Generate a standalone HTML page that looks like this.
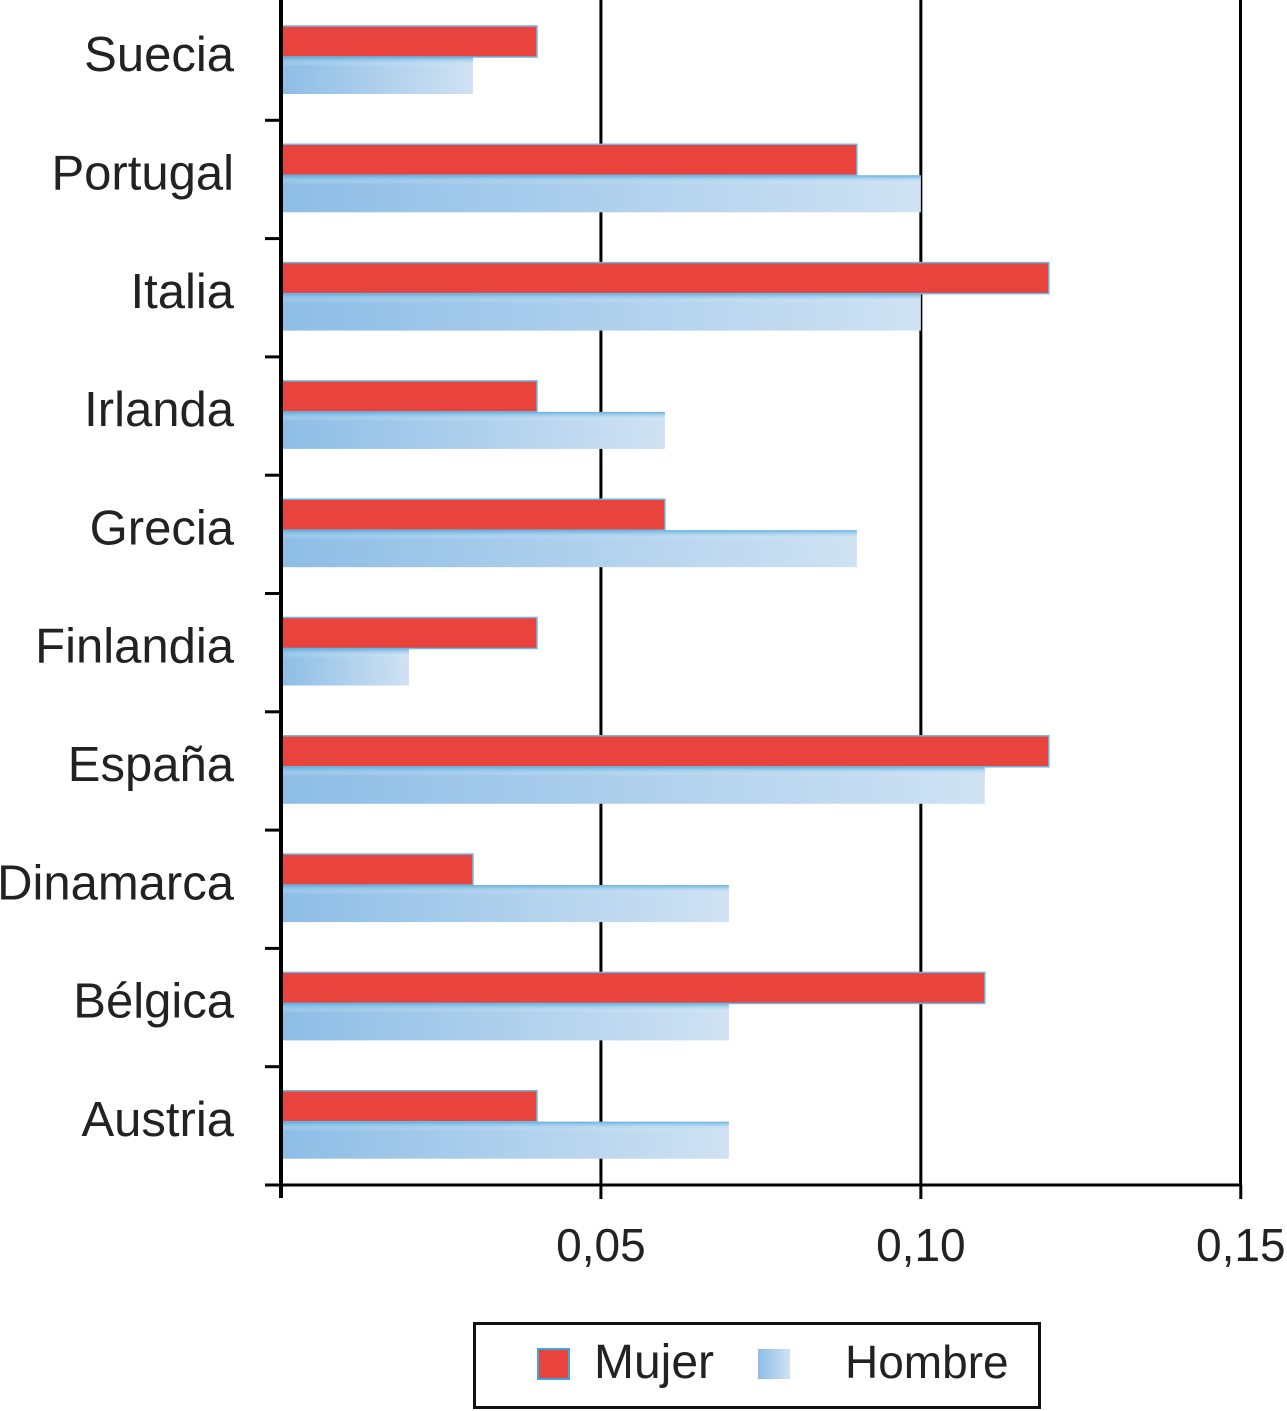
<!DOCTYPE html>
<html><head><meta charset="utf-8"><style>
html,body{margin:0;padding:0;background:#fff;}
svg{display:block;font-family:"Liberation Sans",sans-serif;}
</style></head><body>
<svg id="chart" width="1287" height="1411" viewBox="0 0 1287 1411">
<defs>
<linearGradient id="blueGrad" x1="0" y1="0" x2="1" y2="0">
<stop offset="0" stop-color="#8dbde6"/><stop offset="1" stop-color="#cfe2f3"/>
</linearGradient>
<linearGradient id="blueV" x1="0" y1="0" x2="0" y2="1">
<stop offset="0" stop-color="#4aa6dc" stop-opacity="0.8"/><stop offset="0.25" stop-color="#fff" stop-opacity="0"/>
</linearGradient>
</defs>
<g id="grid"></g>
<g id="bars"></g>
<g id="axes"></g>
<g id="labels"></g>
<g>
<rect x="474.5" y="1323.5" width="565" height="84" fill="none" stroke="#111" stroke-width="3"/>
<g>
<rect x="538" y="1349" width="31" height="30" fill="#e8433d" stroke="#3fa6dc" stroke-width="2"/>
<text x="594" y="1378" font-size="48" fill="#222">Mujer</text>
</g>
<g>
<rect x="758" y="1349" width="32" height="30" fill="url(#blueGrad)"/>
<text x="845" y="1378" font-size="46" fill="#222">Hombre</text>
</g>
</g>
</svg>
<script>
const categories = ["Suecia","Portugal","Italia","Irlanda","Grecia","Finlandia","España","Dinamarca","Bélgica","Austria"];
const mujer = [0.04,0.09,0.12,0.04,0.06,0.04,0.12,0.03,0.11,0.04];
const hombre = [0.03,0.10,0.10,0.06,0.09,0.02,0.11,0.07,0.07,0.07];
const xTicks = [0.05,0.10,0.15];
const xTickLabels = ["0,05","0,10","0,15"];

const NS="http://www.w3.org/2000/svg";
const x0=281, xScale=6398.5, yTop=2, yBottom=1185;
const band=(yBottom-yTop)/categories.length;
function xs(v){return x0+v*xScale;}
function ys(i){return yTop+i*band;}
function mk(tag,attrs,parent){const e=document.createElementNS(NS,tag);for(const k in attrs)e.setAttribute(k,attrs[k]);parent.appendChild(e);return e;}
const grid=document.getElementById('grid'),bars=document.getElementById('bars'),axes=document.getElementById('axes'),labels=document.getElementById('labels');

xTicks.forEach((t,i)=>{
  if(i<2){const g=mk('line',{x1:xs(t),x2:xs(t),y1:0,y2:yBottom,stroke:'#000','stroke-width':3},grid);
  
  }
  const tk=mk('line',{x1:xs(t),x2:xs(t),y1:yBottom,y2:yBottom+14,stroke:'#000','stroke-width':3},axes);
  
  
  const tl=mk('text',{x:xs(t),y:1261,'font-size':46,'text-anchor':'middle',fill:'#222'},labels);
  tl.textContent=xTickLabels[i];
  
  
});

categories.forEach((c,i)=>{
  const b=ys(i);
  const r=mk('rect',{x:x0,y:b+24,width:xs(mujer[i])-x0,height:31,fill:'#e8433d',stroke:'#6ab8e4','stroke-width':1.5},bars);
  
  
  const h=mk('rect',{x:x0,y:b+55,width:xs(hombre[i])-x0,height:37,fill:'url(#blueGrad)'},bars);
  
  
  const h2=mk('rect',{x:x0,y:b+55,width:xs(hombre[i])-x0,height:37,fill:'url(#blueV)'},bars);
  
  
  const l=mk('text',{x:234,y:b+band/2+10,'font-size':49,'text-anchor':'end',fill:'#222'},labels);
  l.textContent=c;
  
  
});
for(let i=1;i<=categories.length;i++){
  const t=mk('line',{x1:265,x2:x0,y1:ys(i),y2:ys(i),stroke:'#000','stroke-width':3},axes);
  
  
}
const ya=mk('line',{x1:x0,x2:x0,y1:0,y2:1198,stroke:'#000','stroke-width':4},axes);


const xa=mk('line',{x1:266,x2:1242,y1:yBottom,y2:yBottom,stroke:'#000','stroke-width':3},axes);


const rf=mk('line',{x1:1240.5,x2:1240.5,y1:0,y2:yBottom,stroke:'#000','stroke-width':3},axes);


</script>
</body></html>
